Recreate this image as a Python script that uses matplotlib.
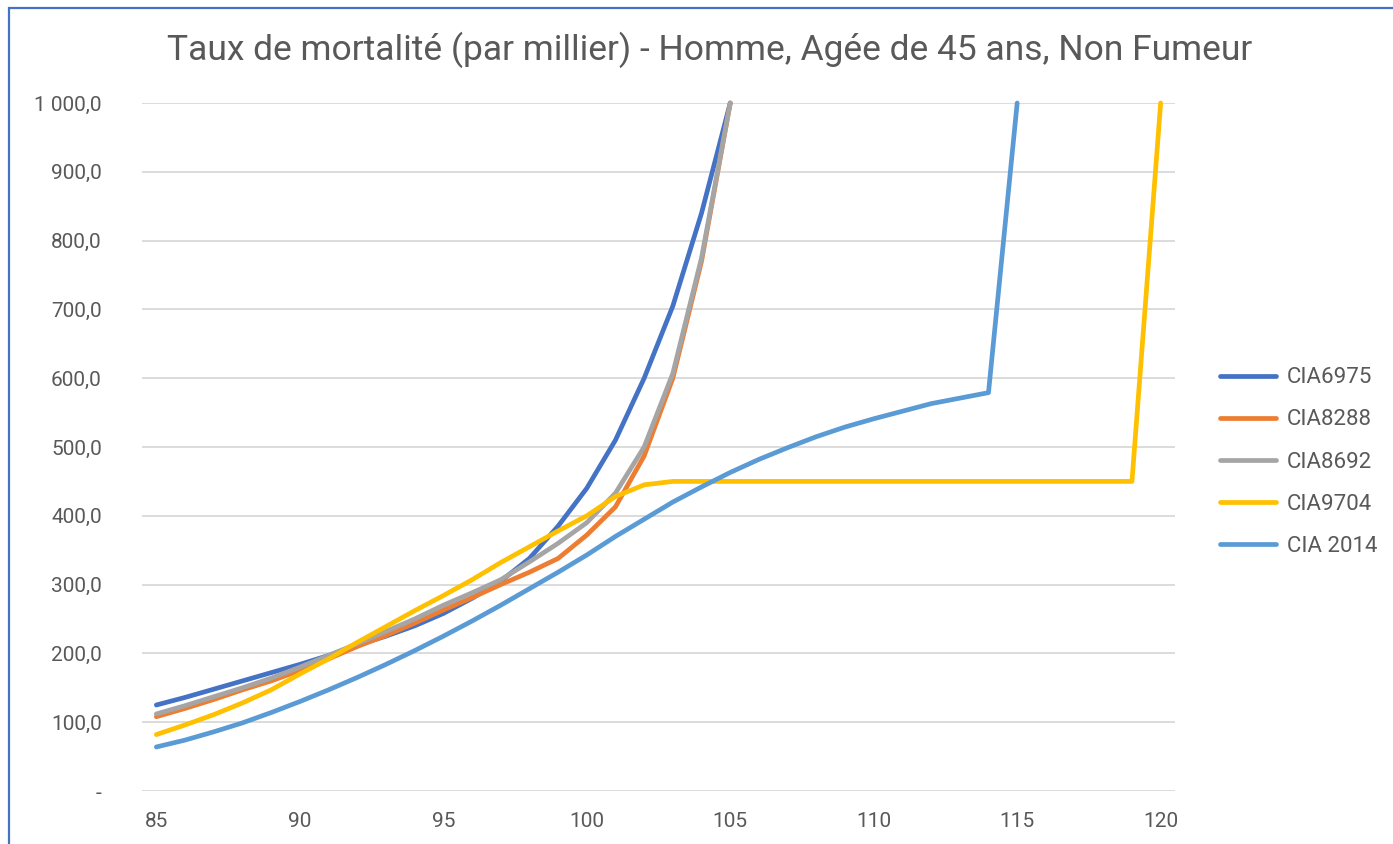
import matplotlib
matplotlib.use('Agg')
import matplotlib.pyplot as plt
from matplotlib.patches import Rectangle

# ─── données (taux par millier) ───
AGES_6975 = list(range(85, 106))
CIA6975 = [125, 136, 148, 160, 172, 184, 197, 212, 225, 240, 258, 280,
           305, 338, 385, 440, 510, 600, 705, 840, 1000]

AGES_8288 = list(range(85, 106))
CIA8288 = [108, 120, 133, 147, 160, 175, 192, 210, 226, 244, 263, 281,
           300, 318, 338, 372, 413, 487, 600, 770, 1000]

AGES_8692 = list(range(85, 106))
CIA8692 = [112, 124, 137, 150, 164, 180, 197, 214, 232, 250, 270, 288,
           307, 333, 360, 390, 433, 500, 607, 775, 1000]

AGES_9704 = list(range(85, 121))
CIA9704 = [82, 96, 111, 128, 147, 170, 192, 216, 239, 262, 284, 307,
           332, 355, 378, 400, 428, 445] + [450] * 17 + [1000]

AGES_2014 = list(range(85, 116))
CIA2014 = [64, 74, 86, 99, 114, 130, 147, 165, 184, 204, 225, 247,
           270, 294, 318, 343, 370, 395, 420, 442, 463, 482, 499, 515,
           529, 541, 552, 563, 571, 579, 1000]

SERIES = [
    ('CIA6975', AGES_6975, CIA6975, '#4472C4'),
    ('CIA8288', AGES_8288, CIA8288, '#ED7D31'),
    ('CIA8692', AGES_8692, CIA8692, '#A5A5A5'),
    ('CIA9704', AGES_9704, CIA9704, '#FFC000'),
    ('CIA 2014', AGES_2014, CIA2014, '#5B9BD5'),
]
YTICKS = [0, 100, 200, 300, 400, 500, 600, 700, 800, 900, 1000]
XTICKS = [85, 90, 95, 100, 105, 110, 115, 120]
TITLE = 'Taux de mortalité (par millier) - Homme, Agée de 45 ans, Non Fumeur'

TXT = '#595959'
plt.rcParams['font.family'] = ['Roboto', 'DejaVu Sans']

fig = plt.figure(figsize=(13.93, 8.44), dpi=100)
ax = fig.add_axes([142/1393, 1 - 791/844, (1175-142)/1393, (791-103)/844])

for name, x, y, c in SERIES:
    ax.plot(x, y, color=c, lw=3.4, label=name, clip_on=False,
            solid_capstyle='round', solid_joinstyle='round')

ax.set_xlim(84.5, 120.5)
ax.set_ylim(0, 1000)
ax.set_xticks(XTICKS)
ax.set_yticks(YTICKS)

def fmt(v):
    if v == 0:
        return '-'
    return f'{v:,.1f}'.replace(',', ' ').replace('.', ',')

ax.set_yticklabels([fmt(v) for v in YTICKS])
ax.tick_params(length=0, labelsize=15, colors=TXT)
ax.tick_params(axis='y', pad=29)
ax.tick_params(axis='x', pad=15)
ax.grid(axis='y', color='#D9D9D9', lw=1.3)
ax.set_axisbelow(True)
for s in ax.spines.values():
    s.set_visible(False)

fig.text(710/1393, 1 - 50/844, TITLE, ha='center', va='center',
         fontsize=25.5, color=TXT)

leg = fig.legend(loc='center left', bbox_to_anchor=(1220/1393, 1 - 462/844),
                 frameon=False, fontsize=16, handlelength=2.5,
                 handletextpad=0.5, labelspacing=0.95,
                 borderpad=0, borderaxespad=0)
for t in leg.get_texts():
    t.set_color(TXT)

# cadre bleu du graphique (coupé à droite et en bas)
fig.patches.append(Rectangle((9/1393, -0.05), 1.1, 1 - 7.5/844 + 0.05,
                             transform=fig.transFigure, fill=False,
                             edgecolor='#4472C4', lw=1.6))

fig.savefig('out.png', dpi=100)
